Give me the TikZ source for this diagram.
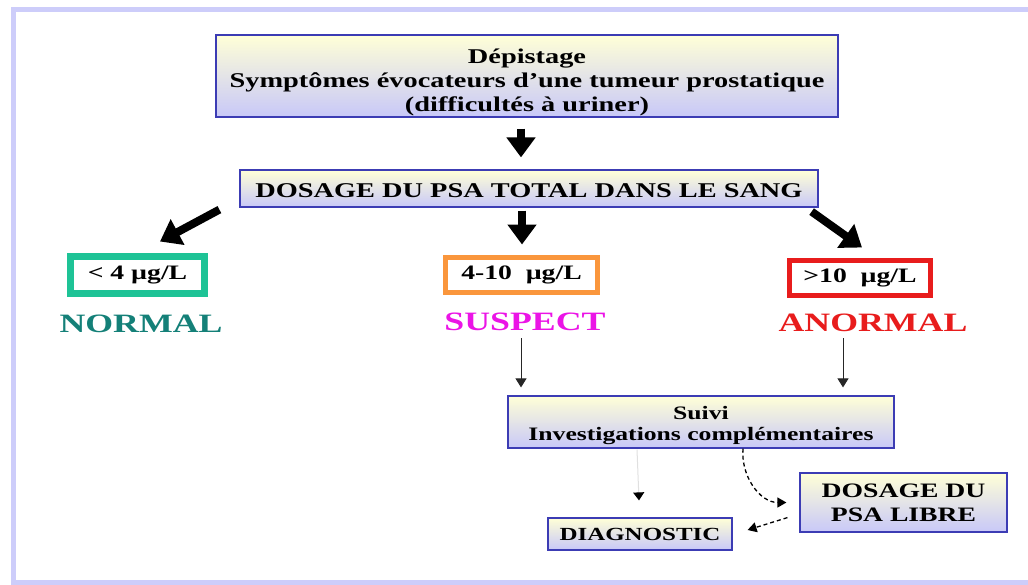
\documentclass[tikz,border=0pt]{standalone}
\usepackage{fontspec}
\setmainfont{Liberation Serif}[FakeStretch=1.35]
\usetikzlibrary{arrows.meta}
\definecolor{framelav}{RGB}{205,205,250}
\definecolor{cream}{RGB}{255,255,215}
\definecolor{lavender}{RGB}{200,200,248}
\definecolor{boxblue}{RGB}{60,60,180}
\definecolor{normgreen}{RGB}{30,195,150}
\definecolor{normtext}{RGB}{20,128,120}
\definecolor{susorange}{RGB}{250,150,60}
\definecolor{sustext}{RGB}{235,20,230}
\definecolor{anorred}{RGB}{232,28,28}
\newcommand{\fs}[1]{\fontsize{#1}{#1}\selectfont\bfseries}
\begin{document}
\begin{tikzpicture}[x=1pt, y=-1pt, inner sep=0pt,
  box/.style={draw=boxblue, line width=1.2pt, top color=cream, bottom color=lavender, align=center},
  valbox/.style={draw, fill=white, font=\fs{20.5}},
  verdict/.style={font=\fs{26.5}},
  bigarrow/.style={-{Triangle[width=28pt, length=20pt]}, line width=8pt},
  thinarrow/.style={-{Triangle[width=11pt, length=9pt]}, line width=1pt, black!85},
  dasharrow/.style={-{Triangle[width=10pt, length=9pt]}, line width=1.3pt, dash pattern=on 4pt off 3pt}]
  \useasboundingbox (0,0) rectangle (1028,584);
  \draw[framelav, line width=5pt] (1028,9) -- (13,9) -- (13,582) -- (1028,582);
  \node[box, minimum width=622, minimum height=82, font=\fontsize{21}{24}\selectfont\bfseries] (screen) at (527,76)
    {\rule{0pt}{28pt}Dépistage\\Symptômes évocateurs d’une tumeur prostatique\\(difficultés à uriner)};
  \node[box, minimum width=578, minimum height=37, text height=17pt, text depth=0pt, font=\fs{21}] (psa) at (529,188.5) {DOSAGE DU PSA TOTAL DANS LE SANG};
  \node[valbox, draw=normgreen, line width=7pt, minimum width=134, minimum height=37] (low) at (137.5,275) {< 4 µg/L};
  \node[valbox, draw=susorange, line width=5pt, minimum width=152, minimum height=35] (mid) at (521.5,275) {4-10~~µg/L};
  \node[valbox, draw=anorred, line width=5pt, minimum width=141, minimum height=35] (high) at (860,278) {>10~~µg/L};
  \node[verdict, text=normtext] (normal) at (141,324) {NORMAL};
  \node[verdict, text=sustext] (suspect) at (525,322) {SUSPECT};
  \node[verdict, text=anorred] (anormal) at (873,323) {ANORMAL};
  \node[box, minimum width=386, minimum height=52, font=\fontsize{19}{21}\selectfont\bfseries] (suivi) at (701,422)
    {\rule{0pt}{20pt}Suivi\\Investigations complémentaires};
  \node[box, minimum width=184, minimum height=32, font=\fs{18.5}] (diag) at (640,534) {DIAGNOSTIC};
  \node[box, minimum width=207, minimum height=59, font=\fontsize{20.5}{24}\selectfont\bfseries] (libre) at (903.5,502.5)
    {DOSAGE DU\\PSA LIBRE};
  % thick arrows
  \draw[bigarrow] ([shift={(-6,11)}]screen.south) -- ([shift={(-8,-12)}]psa.north);
  \draw[bigarrow] ([shift={(-7,3)}]psa.south) -- ([shift={(0.5,-10.5)}]mid.north);
  \draw[bigarrow] ([shift={(-20,2)}]psa.south west) -- ([shift={(22.5,-11.5)}]low.north);
  \draw[bigarrow] ([shift={(-7,4)}]psa.south east) -- ([shift={(2,-10.5)}]high.north);
  % thin arrows
  \draw[thinarrow] ([shift={(-4,16)}]suspect.center) -- ([shift={(-180,-8)}]suivi.north);
  \draw[thinarrow] ([shift={(-30,15)}]anormal.center) -- ([shift={(142,-8)}]suivi.north);
  \draw[black!12, line width=1pt, -{Triangle[width=11pt, length=8pt, color=black]}]
    ([shift={(-64,1)}]suivi.south) -- ([shift={(-1,-17)}]diag.north);
  \draw[dasharrow] ([shift={(42,0)}]suivi.south) to[out=-95, in=180] ([shift={(-13,0)}]libre.west);
  \draw[dasharrow] ([shift={(-12,-15)}]libre.south west) -- ([shift={(15,-4)}]diag.east);
\end{tikzpicture}
\end{document}
